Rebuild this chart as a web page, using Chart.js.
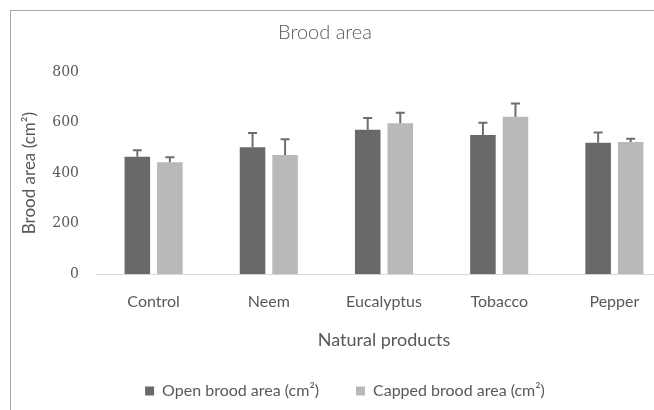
<!DOCTYPE html>
<html>
<head>
<meta charset="utf-8">
<script src="https://cdn.jsdelivr.net/npm/chart.js@4"></script>
<style>
  html, body { margin: 0; padding: 0; background: #fff; }
  #wrap { position: relative; width: 654px; height: 410px; overflow: hidden; }
  #chart { position: absolute; left: -22px; top: 0; }
  #frame { position: absolute; left: 10px; top: 10px; width: 660px; height: 420px;
           border-left: 1px solid #a6a6a6; border-top: 1px solid #a6a6a6; pointer-events: none; }
</style>
</head>
<body>
<div id="wrap">
  <canvas id="chart" width="694" height="410"></canvas>
  <div id="frame"></div>
</div>
<script>
const categories = ['Control', 'Neem', 'Eucalyptus', 'Tobacco', 'Pepper'];
const openBrood = [465, 502, 572, 551, 520];
const openErr = [25, 57, 46, 48, 41];
const cappedBrood = [443, 472, 597, 623, 523];
const cappedErr = [20, 62, 42, 52, 13];
const seriesNames = ['Open brood area (cm²)', 'Capped brood area (cm²)'];
const yTicks = [0, 200, 400, 600, 800];

const textColor = '#595959';

// upward-only error bars, drawn through the y scale
const errorBars = {
    id: 'errorBars',
    afterDatasetsDraw(chart) {
        const ctx = chart.ctx;
        const y = chart.scales.y;
        chart.data.datasets.forEach((ds, i) => {
            chart.getDatasetMeta(i).data.forEach((bar, j) => {
                const top = y.getPixelForValue(ds.data[j] + ds.errors[j]);
                ctx.save();
                ctx.strokeStyle = '#6e6e6e';
                ctx.lineWidth = 2;
                ctx.beginPath();
                ctx.moveTo(bar.x, bar.y);
                ctx.lineTo(bar.x, top);
                ctx.moveTo(bar.x - 4.5, top);
                ctx.lineTo(bar.x + 4.5, top);
                ctx.stroke();
                ctx.restore();
            });
        });
    }
};

// move the legend a bit, like the original
const legendShift = {
    id: 'legendShift',
    afterLayout(chart) {
        const lg = chart.legend;
        lg.left += 20; lg.right += 20;
        lg.top -= 5; lg.bottom -= 5;
    }
};

new Chart(document.getElementById('chart'), {
    type: 'bar',
    data: {
        labels: categories,
        datasets: [
            { label: seriesNames[0], data: openBrood, errors: openErr, backgroundColor: '#696969' },
            { label: seriesNames[1], data: cappedBrood, errors: cappedErr, backgroundColor: '#b9b9b9' }
        ]
    },
    options: {
        responsive: false,
        animation: false,
        categoryPercentage: 0.565,
        barPercentage: 0.785,
        layout: { padding: { left: 0, right: 0, top: 0, bottom: -4 } },
        plugins: {
            title: {
                display: true,
                text: 'Brood area',
                color: textColor,
                font: { family: 'Lato', size: 20, weight: '300' },
                padding: { top: 21, bottom: 27 }
            },
            legend: {
                position: 'bottom',
                labels: {
                    color: textColor,
                    font: { family: 'Lato', size: 16 },
                    boxWidth: 9,
                    boxHeight: 9,
                    padding: 37
                }
            },
            tooltip: { enabled: false }
        },
        scales: {
            x: {
                grid: { display: false, drawTicks: false },
                border: { display: true, color: '#d9d9d9', width: 1 },
                ticks: { color: textColor, font: { family: 'Lato', size: 16 }, padding: 18 },
                title: {
                    display: true,
                    text: 'Natural products',
                    color: textColor,
                    font: { family: 'Lato', size: 18 },
                    padding: { top: 0, bottom: 0 }
                }
            },
            y: {
                min: 0,
                max: 800,
                afterBuildTicks: s => { s.ticks = yTicks.map(v => ({ value: v })); },
                afterFit: s => { s.width = 118; },
                grid: { display: false, drawTicks: false },
                border: { display: false },
                ticks: { color: textColor, font: { family: 'DejaVu Serif', size: 14 }, padding: 17 },
                title: {
                    display: true,
                    text: 'Brood area (cm²)',
                    color: textColor,
                    font: { family: 'Lato', size: 17 },
                    padding: { top: 41, bottom: 0 }
                }
            }
        }
    },
    plugins: [errorBars, legendShift]
});
</script>
</body>
</html>
